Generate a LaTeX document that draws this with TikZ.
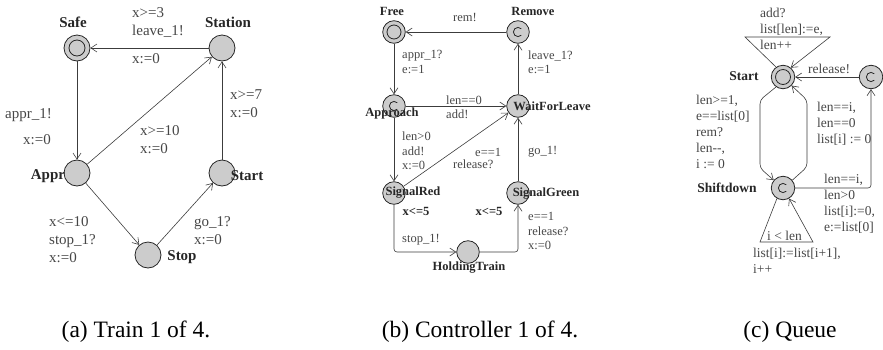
\documentclass[tikz,border=0pt]{standalone}
\usepackage{fontspec}
\setmainfont{Liberation Serif}
\usepackage{xcolor}
\usepackage{tikz}
\usetikzlibrary{
  arrows.meta,
  calc
}
\definecolor{locfill}{RGB}{204,204,204}
\definecolor{inkgray}{RGB}{60,60,60}
\definecolor{labgray}{RGB}{70,70,70}
\tikzset{
  loc/.style={
    circle,
    draw=black!85,
    fill=locfill,
    line width=0.8pt,
    inner sep=0pt,
    minimum size=#1
  },
  loc/.default=26pt,
  initloc/.style={
    path picture={
      \draw[line width=0.8pt, black!85]
        (path picture bounding box.center) circle (#1);
    }
  },
  initloc/.default=8pt,
  commloc/.style={
    path picture={
      \draw[line width=0.8pt, black!85]
        ($(path picture bounding box.center)+(45:4.6pt)$) arc (45:315:4.6pt);
    }
  },
  edge/.style={
    -{Straight Barb[length=6pt,width=8pt]},
    line width=0.6pt,
    draw=inkgray
  },
  locname/.style={
    inner sep=0pt,
    text=black!85,
    font=\rmfamily\bfseries#1
  },
  guard/.style={
    anchor=west,
    inner sep=0pt,
    align=left,
    text=labgray,
    font=\rmfamily#1
  },
  capnode/.style={
    inner sep=0pt,
    text=black,
    font=\rmfamily\fontsize{23.5}{26}\selectfont
  }
}
\newcommand\fa{\fontsize{15}{18}\selectfont}
\newcommand\fb{\fontsize{12.5}{14.5}\selectfont}
\newcommand\fc{\fontsize{13.5}{16}\selectfont}

\begin{document}
\begin{tikzpicture}[x=1pt,y=-1pt]
\useasboundingbox (0,0) rectangle (883,349);

% (a) train
\node[loc, initloc] (safe) at (77,48) {};
\node[loc] (station) at (222,48) {};
\node[loc] (appr) at (77,173) {};
\node[loc] (start) at (222,173) {};
\node[loc] (stop) at (148,255) {};

\draw[edge] (station) -- (safe);
\draw[edge] (safe) -- (appr);
\draw[edge] (appr) -- (station);
\draw[edge] (appr) -- (stop);
\draw[edge] (stop) -- (start);
\draw[edge] (start) -- (station);

\node[locname=\fa] (safeName) at (73,22) {Safe};
\node[locname=\fa] (stationName) at (228,22) {Station};
\node[locname=\fa] (apprName) at (48,176) {Appr};
\node[locname=\fa] (startName) at (247,176) {Start};
\node[locname=\fa] (stopName) at (182,257) {Stop};

\node[guard=\fa] (leaveLbl) at (132,22) {x>=3\\leave\_1!};
\node[guard=\fa] (leaveUpd) at (132,59) {x:=0};
\node[guard=\fa] (apprLbl) at (5,115) {appr\_1!};
\node[guard=\fa] (apprUpd) at (23,140) {x:=0};
\node[guard=\fa] (skipLbl) at (140,140) {x>=10\\x:=0};
\node[guard=\fa] (startLbl) at (230,104) {x>=7\\x:=0};
\node[guard=\fa] (stopLbl) at (49,240) {x<=10\\stop\_1?\\x:=0};
\node[guard=\fa] (goLbl) at (194,231) {go\_1?\\x:=0};

% (b) controller
\node[loc=22.6pt, initloc=7pt] (free) at (394,32) {};
\node[loc=22.6pt, commloc] (remove) at (518,32) {};
\node[loc=22.6pt, commloc] (approach) at (394,106) {};
\node[loc=22.6pt] (waitLeave) at (518,106) {};
\node[loc=22.6pt] (sigRed) at (394,193) {};
\node[loc=22.6pt] (sigGreen) at (518,193) {};
\node[loc=22.6pt] (holding) at (468,252) {};

\draw[edge] (remove) -- (free);
\draw[edge] (free) -- (approach);
\draw[edge] (waitLeave) -- (remove);
\draw[edge] (approach) -- (waitLeave);
\draw[edge] (approach) -- (sigRed);
\draw[edge] (sigRed) -- (waitLeave);
\draw[edge] (sigGreen) -- (waitLeave);
\draw[edge, rounded corners=3pt] (sigRed) |- (holding);
\draw[edge, rounded corners=3pt] (holding) -| (sigGreen);

\node[locname=\fb] (freeName) at (392,11) {Free};
\node[locname=\fb] (removeName) at (533,11) {Remove};
\node[locname=\fb] (approachName) at (392,113) {Approach};
\node[locname=\fb] (waitName) at (552,106) {WaitForLeave};
\node[locname=\fb] (redName) at (413,193) {SignalRed};
\node[locname=\fb] (greenName) at (546,194) {SignalGreen};
\node[locname=\fb] (holdName) at (469,268) {HoldingTrain};
\node[locname=\fb] (redInv) at (416,211) {x<=5};
\node[locname=\fb] (greenInv) at (489,211) {x<=5};

\node[guard=\fb] (remLbl) at (453,17) {rem!};
\node[guard=\fb] (apprInLbl) at (402,62) {appr\_1?\\e:=1};
\node[guard=\fb] (leaveInLbl) at (528,62) {leave\_1?\\e:=1};
\node[guard=\fb] (emptyLbl) at (446,107) {len==0\\add!};
\node[guard=\fb] (queuedLbl) at (402,151) {len>0\\add!\\x:=0};
\node[guard=\fb] (relGuard) at (475,152) {e==1};
\node[guard=\fb] (relSync) at (453,164) {release?};
\node[guard=\fb] (goOutLbl) at (528,152) {go\_1!};
\node[guard=\fb] (stopOutLbl) at (402,240) {stop\_1!};
\node[guard=\fb] (holdLbl) at (528,231) {e==1\\release?\\x:=0};

% (c) queue
\node[loc=23.5pt, initloc=7.5pt] (qStart) at (783,77) {};
\node[loc=23.5pt, commloc] (qShift) at (783,188) {};
\node[loc=23.5pt, commloc] (qRel) at (871,77) {};

\draw[edge] (qStart.125) -- (745,37) -- (830,37) -- (qStart.50);
\draw[edge] (qShift.240) -- (760,242) -- (813,242) -- (qShift.300);
\draw[edge, rounded corners=4pt] (qStart.235) -- (760,100) -- (760,168) -- (qShift.140);
\draw[edge, rounded corners=4pt] (qShift.40) -- (807,167) -- (807,100) -- (qStart.-45);
\draw[edge, rounded corners=3pt] (qShift) -| (qRel);
\draw[edge] (qRel) -- (qStart);

\node[locname=\fc] (qStartName) at (744,76) {Start};
\node[locname=\fc] (qShiftName) at (727,188) {Shiftdown};

\node[guard=\fc] (addLbl) at (760,29) {add?\\list[len]:=e,\\len++};
\node[guard=\fc] (releaseLbl) at (808,69) {release!};
\node[guard=\fc] (remInLbl) at (696,132) {len>=1,\\e==list[0]\\rem?\\len-{}-,\\i := 0};
\node[guard=\fc] (doneLbl) at (817,124) {len==i,\\len==0\\list[i] := 0};
\node[guard=\fc] (moreLbl) at (824,204) {len==i,\\len>0\\list[i]:=0,\\e:=list[0]};
\node[guard=\fc] (shiftLbl) at (767,236) {i < len};
\node[guard=\fc] (shiftUpd) at (753,261) {list[i]:=list[i+1],\\i++};

% captions
\node[capnode] (capA) at (136,332) {(a) Train 1 of 4.};
\node[capnode] (capB) at (480,332) {(b) Controller 1 of 4.};
\node[capnode] (capC) at (790,332) {(c) Queue};
\end{tikzpicture}
\end{document}
